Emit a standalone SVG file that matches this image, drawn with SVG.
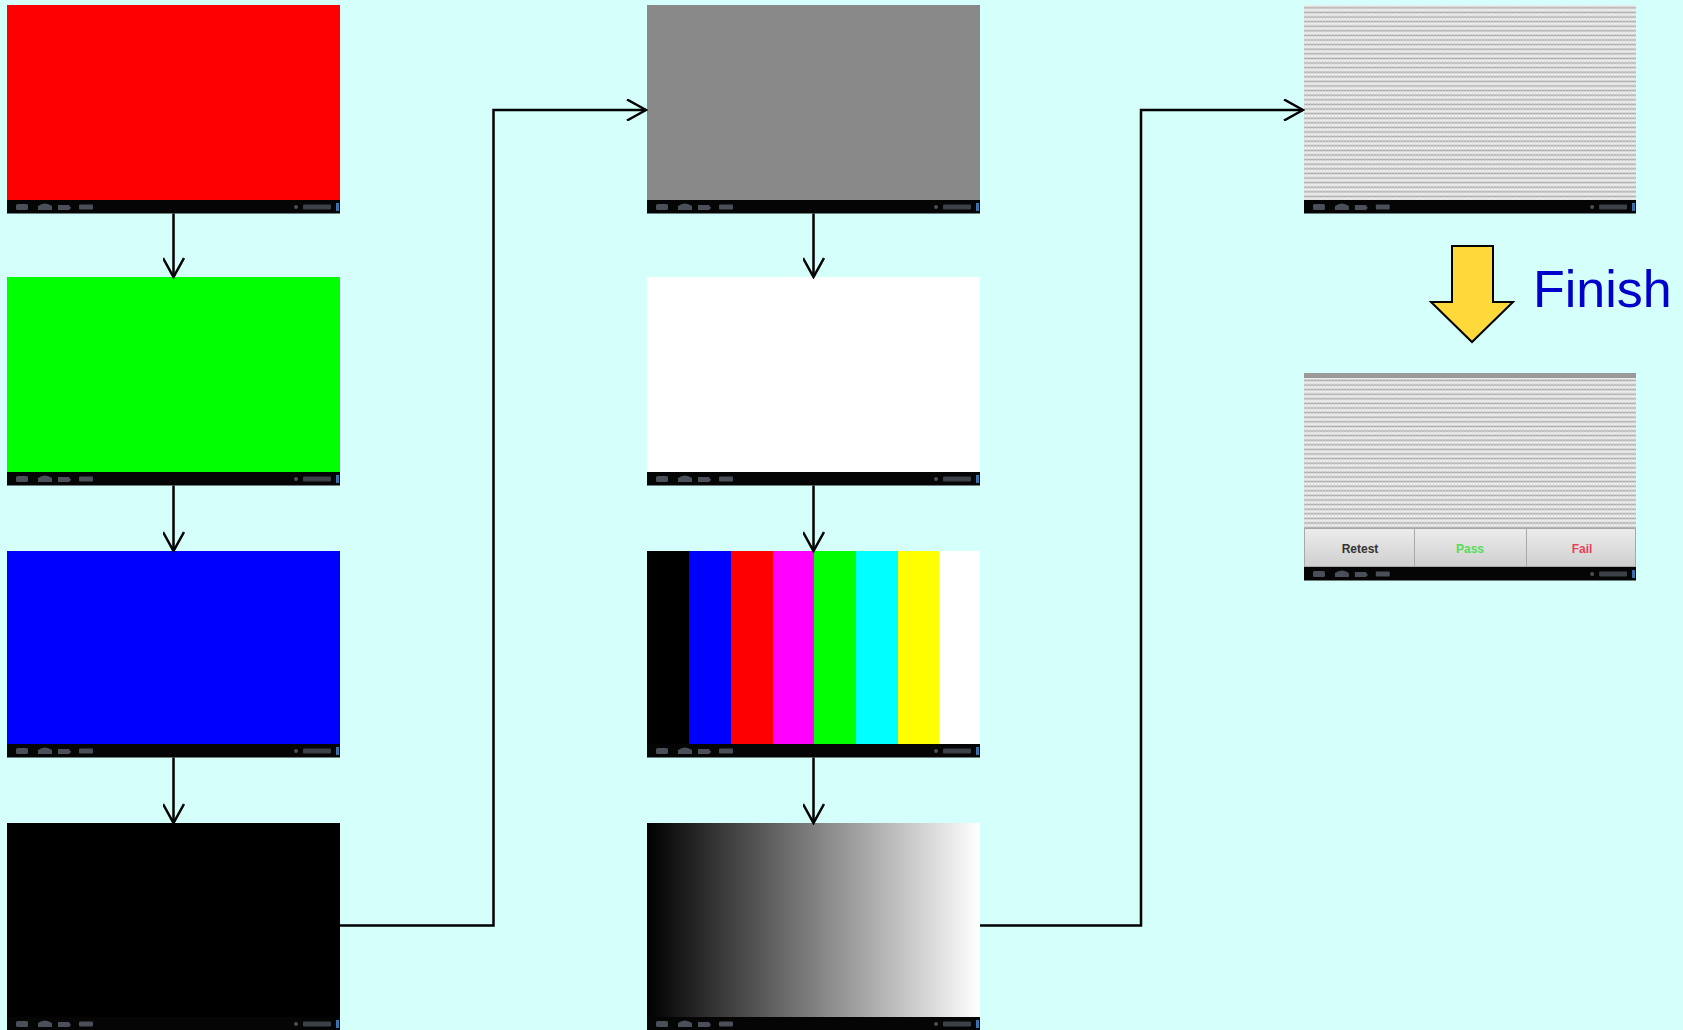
<svg xmlns="http://www.w3.org/2000/svg" xmlns:xlink="http://www.w3.org/1999/xlink" width="1683" height="1030" viewBox="0 0 1683 1030">
  <style>
    .conn { fill: none; stroke: #000; stroke-width: 2.5; }
    .ico { fill: #4a4f5a; }
    .btn { fill: url(#btnGrad); stroke: #a8a8a8; stroke-width: 1; }
    .btxt { font-family: "Liberation Sans", Arial, sans-serif; font-size: 12px; text-anchor: middle; font-weight: bold; }
  </style>
  <defs>
    <marker id="arrow" viewBox="0 0 22 22" refX="20" refY="11" markerWidth="22" markerHeight="22" markerUnits="userSpaceOnUse" orient="auto">
      <path d="M1,0.5 L20,11 L1,21.5" fill="none" stroke="#000" stroke-width="2.5"/>
    </marker>
    <linearGradient id="grayGrad" x1="0" y1="0" x2="1" y2="0">
      <stop offset="0" stop-color="#000"/>
      <stop offset="1" stop-color="#fff"/>
    </linearGradient>
    <linearGradient id="btnGrad" x1="0" y1="0" x2="0" y2="1">
      <stop offset="0" stop-color="#ececec"/>
      <stop offset="1" stop-color="#cfcfcf"/>
    </linearGradient>
    <pattern id="stripes" patternUnits="userSpaceOnUse" width="3" height="4.6">
      <rect width="3" height="4.6" fill="#efefef"/>
      <rect y="2.4" width="3" height="1.6" fill="#a9a9a9"/>
      <rect x="2" width="1" height="4.6" fill="#d6d6d6" opacity="0.5"/>
    </pattern>
    <g id="statusbar">
      <rect width="333" height="13.5" fill="#050505"/>
      <rect x="9" y="4" width="12" height="6" rx="1.5" class="ico"/>
      <path d="M31,10 L31,6 Q38,1 45,6 L45,10 Z" class="ico"/>
      <path d="M51,10 L51,5 L62,5 L64,8 L62,10 Z" class="ico"/>
      <rect x="72" y="4.5" width="14" height="5" rx="1" class="ico"/>
      <circle cx="289" cy="7" r="2" class="ico"/>
      <rect x="296" y="4.5" width="28" height="5" rx="1" fill="#3c4048"/>
      <rect x="329" y="3" width="3" height="8" fill="#3a6fb0"/>
    </g>
  </defs>

  <rect width="1683" height="1030" fill="#d4fffa"/>

  <!-- Column 1 -->
  <g id="red">
    <rect x="7" y="5" width="333" height="195" fill="#ff0000"/>
    <use xlink:href="#statusbar" x="7" y="200"/>
  </g>
  <g id="green">
    <rect x="7" y="277" width="333" height="195" fill="#00ff00"/>
    <use xlink:href="#statusbar" x="7" y="472"/>
  </g>
  <g id="blue">
    <rect x="7" y="551" width="333" height="193" fill="#0000ff"/>
    <use xlink:href="#statusbar" x="7" y="744"/>
  </g>
  <g id="black">
    <rect x="7" y="823" width="333" height="194" fill="#000000"/>
    <use xlink:href="#statusbar" x="7" y="1017"/>
  </g>

  <!-- Column 2 -->
  <g id="gray">
    <rect x="647" y="5" width="333" height="195" fill="#898989"/>
    <use xlink:href="#statusbar" x="647" y="200"/>
  </g>
  <g id="white">
    <rect x="647" y="277" width="333" height="195" fill="#ffffff"/>
    <use xlink:href="#statusbar" x="647" y="472"/>
  </g>
  <g id="colorbars">
    <rect x="647" y="551" width="42" height="193" fill="#000000"/>
    <rect x="689" y="551" width="42" height="193" fill="#0000ff"/>
    <rect x="731" y="551" width="42" height="193" fill="#ff0000"/>
    <rect x="773" y="551" width="41" height="193" fill="#ff00ff"/>
    <rect x="814" y="551" width="42" height="193" fill="#00ff00"/>
    <rect x="856" y="551" width="42" height="193" fill="#00ffff"/>
    <rect x="898" y="551" width="41" height="193" fill="#ffff00"/>
    <rect x="939" y="551" width="41" height="193" fill="#ffffff"/>
    <use xlink:href="#statusbar" x="647" y="744"/>
  </g>
  <g id="gradient">
    <rect x="647" y="823" width="333" height="194" fill="url(#grayGrad)"/>
    <use xlink:href="#statusbar" x="647" y="1017"/>
  </g>

  <!-- Column 3 -->
  <g id="stripes1">
    <rect x="1304" y="5" width="332" height="195" fill="url(#stripes)"/>
    <use xlink:href="#statusbar" x="1304" y="200" transform="translate(1304 0) scale(0.997 1) translate(-1304 0)"/>
  </g>
  <g id="finish-arrow">
    <path d="M1452,246 L1493,246 L1493,302 L1513,302 L1472,342 L1431,302 L1452,302 Z" fill="#ffd83a" stroke="#000" stroke-width="2"/>
    <text x="1533" y="307" font-family="Liberation Sans, Arial, sans-serif" font-size="52" fill="#0000cc">Finish</text>
  </g>
  <g id="result">
    <rect x="1304" y="373" width="332" height="155" fill="url(#stripes)"/>
    <rect x="1304" y="373" width="332" height="5" fill="#9a9a9a"/>
    <rect x="1304.5" y="528.5" width="110" height="38" class="btn"/>
    <rect x="1414.5" y="528.5" width="112" height="38" class="btn"/>
    <rect x="1526.5" y="528.5" width="109" height="38" class="btn"/>
    <text x="1360" y="553" class="btxt" fill="#333">Retest</text>
    <text x="1470" y="553" class="btxt" fill="#55dd55">Pass</text>
    <text x="1582" y="553" class="btxt" fill="#e8405a">Fail</text>
    <use xlink:href="#statusbar" x="1304" y="567" transform="translate(1304 0) scale(0.997 1) translate(-1304 0)"/>
  </g>

  <!-- Connectors -->
  <g id="connectors">
    <line class="conn" x1="173.5" y1="213.5" x2="173.5" y2="277" marker-end="url(#arrow)"/>
    <line class="conn" x1="173.5" y1="485.5" x2="173.5" y2="551" marker-end="url(#arrow)"/>
    <line class="conn" x1="173.5" y1="757.5" x2="173.5" y2="823" marker-end="url(#arrow)"/>
    <line class="conn" x1="813.5" y1="213.5" x2="813.5" y2="277" marker-end="url(#arrow)"/>
    <line class="conn" x1="813.5" y1="485.5" x2="813.5" y2="551" marker-end="url(#arrow)"/>
    <line class="conn" x1="813.5" y1="757.5" x2="813.5" y2="823" marker-end="url(#arrow)"/>
    <polyline class="conn" points="340,925.5 493.5,925.5 493.5,110 646,110" marker-end="url(#arrow)"/>
    <polyline class="conn" points="980,925.5 1141,925.5 1141,110 1303,110" marker-end="url(#arrow)"/>
  </g>
</svg>
